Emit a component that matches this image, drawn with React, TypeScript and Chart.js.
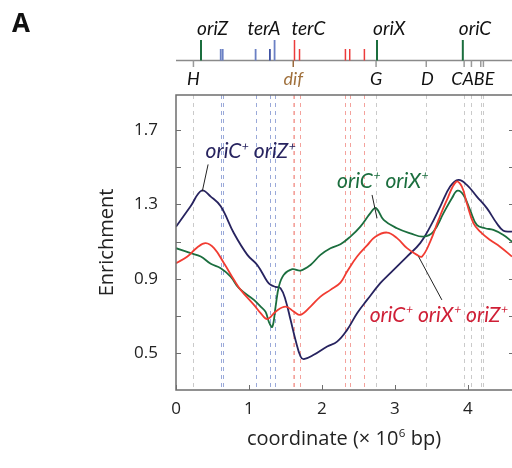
import React, { useEffect, useRef } from "react";
import { Chart, registerables } from "chart.js";

Chart.register(...registerables);

const FAM = "'Open Sans', 'Noto Sans', sans-serif";
const IFAM = "Lato, 'Open Sans', sans-serif";

// ---- data (x in 10^6 bp, y = enrichment) ----
const navyX = [0, 0.2, 0.353, 0.476, 0.613, 0.794, 0.978, 1.114, 1.251, 1.296, 1.365, 1.433, 1.501, 1.57, 1.638, 1.707, 1.752, 1.888, 2.072, 2.208, 2.345, 2.482, 2.619, 2.8, 2.937, 3.166, 3.347, 3.484, 3.621, 3.757, 3.871, 3.986, 4.123, 4.26, 4.396, 4.487, 4.605];
const navyY = [1.18, 1.29, 1.375, 1.342, 1.29, 1.145, 1.029, 0.975, 0.886, 0.868, 0.857, 0.85, 0.787, 0.68, 0.572, 0.483, 0.469, 0.492, 0.537, 0.563, 0.626, 0.716, 0.787, 0.877, 0.931, 1.02, 1.092, 1.181, 1.288, 1.396, 1.432, 1.405, 1.342, 1.28, 1.199, 1.159, 1.154];

const greenX = [0, 0.202, 0.339, 0.476, 0.613, 0.749, 0.863, 1.068, 1.16, 1.228, 1.273, 1.32, 1.365, 1.41, 1.478, 1.593, 1.707, 1.843, 1.98, 2.117, 2.254, 2.39, 2.527, 2.664, 2.739, 2.846, 3.029, 3.211, 3.393, 3.529, 3.666, 3.781, 3.857, 3.94, 4.031, 4.123, 4.236, 4.35, 4.487, 4.605];
const greenY = [1.065, 1.038, 1.02, 0.981, 0.957, 0.912, 0.85, 0.787, 0.751, 0.723, 0.669, 0.642, 0.751, 0.859, 0.922, 0.952, 0.945, 0.975, 1.029, 1.065, 1.086, 1.127, 1.181, 1.253, 1.281, 1.217, 1.172, 1.145, 1.127, 1.154, 1.253, 1.333, 1.374, 1.351, 1.27, 1.19, 1.172, 1.163, 1.136, 1.1];

const redX = [0, 0.157, 0.294, 0.407, 0.521, 0.658, 0.794, 0.886, 1.068, 1.16, 1.251, 1.365, 1.501, 1.615, 1.707, 1.843, 1.98, 2.117, 2.254, 2.345, 2.482, 2.619, 2.732, 2.892, 3.029, 3.166, 3.302, 3.371, 3.484, 3.598, 3.713, 3.84, 3.918, 3.986, 4.076, 4.168, 4.305, 4.441, 4.605];
const redY = [0.984, 1.02, 1.07, 1.092, 1.065, 0.984, 0.895, 0.841, 0.76, 0.716, 0.684, 0.724, 0.751, 0.724, 0.707, 0.751, 0.805, 0.841, 0.88, 0.94, 1.02, 1.08, 1.127, 1.149, 1.119, 1.065, 1.029, 1.02, 1.1, 1.217, 1.324, 1.422, 1.396, 1.306, 1.199, 1.154, 1.109, 1.073, 1.02];

const xTickValues = [0, 1, 2, 3, 4];
const yLabelValues = [0.5, 0.9, 1.3, 1.7];
const yMarkValues = [0.5, 0.7, 0.9, 1.1, 1.3, 1.5, 1.7];

// genome map features (10^6 bp)
const originNames = ["oriZ", "oriX", "oriC"];
const originPos = [0.343, 2.755, 3.931];
const terBluePos = [0.613, 0.64, 1.091, 1.287, 1.351];
const terBlueTall = [false, false, false, false, true];
const terRedPos = [1.624, 1.693, 2.322, 2.381, 2.582];
const terRedTall = [true, false, false, false, false];
const terLabels = ["terA", "terC"];
const terLabelPos = [1.351, 1.624];
const letterNames = ["H", "G", "D", "C", "A", "B", "E"];
const letterPos = [0.239, 2.742, 3.43, 3.949, 4.049, 4.177, 4.213];
const difPos = 1.607;

const NAVY = "#27235f";
const GREEN = "#1b6e3e";
const RED = "#f13c32";
const RED_TEXT = "#cf1f36";

function drawSup(ctx: CanvasRenderingContext2D, parts: string[], x: number, y: number, size: number, color: string, fam: string, italic: boolean) {
  ctx.fillStyle = color;
  ctx.textAlign = "left";
  ctx.textBaseline = "alphabetic";
  const st = italic ? "italic " : "";
  let cx = x;
  for (const p of parts) {
    if (p.startsWith("^")) {
      const t = p.slice(1);
      ctx.font = `${st}${size * 0.58}px ${fam}`;
      ctx.fillText(t, cx + 0.5, y - size * 0.4);
      cx += ctx.measureText(t).width + 0.5;
    } else {
      ctx.font = `${st}${size}px ${fam}`;
      ctx.fillText(p, cx, y);
      cx += ctx.measureText(p).width;
    }
  }
  return cx - x;
}

function measureSup(ctx: CanvasRenderingContext2D, parts: string[], size: number, fam: string, italic: boolean) {
  const st = italic ? "italic " : "";
  let w = 0;
  for (const p of parts) {
    if (p.startsWith("^")) {
      ctx.font = `${st}${size * 0.58}px ${fam}`;
      w += ctx.measureText(p.slice(1)).width + 0.5;
    } else {
      ctx.font = `${st}${size}px ${fam}`;
      w += ctx.measureText(p).width;
    }
  }
  return w;
}

const overlay = {
  id: "overlay",
  beforeDatasetsDraw(chart: any) {
    const { ctx, chartArea: a, scales } = chart;
    const x = scales.x;
    ctx.save();
    ctx.lineWidth = 1;
    ctx.setLineDash([4, 4]);
    const vline = (v: number, color: string) => {
      const px = Math.round(x.getPixelForValue(v)) + 0.5;
      ctx.strokeStyle = color;
      ctx.beginPath();
      ctx.moveTo(px, a.top);
      ctx.lineTo(px, a.bottom);
      ctx.stroke();
    };
    letterPos.forEach((p) => vline(p, "#cacaca"));
    terBluePos.forEach((p) => vline(p, "#9aa9d9"));
    vline(difPos, "#f7c0bb");
    terRedPos.forEach((p) => vline(p, "#f4a29c"));
    ctx.restore();
  },
  afterDraw(chart: any) {
    const { ctx, chartArea: a, scales } = chart;
    const x = scales.x;
    const y = scales.y;
    ctx.save();
    // frame
    ctx.strokeStyle = "#6e6e6e";
    ctx.lineWidth = 1.5;
    ctx.beginPath();
    ctx.moveTo(a.right + 2, a.top);
    ctx.lineTo(a.left, a.top);
    ctx.lineTo(a.left, a.bottom);
    ctx.lineTo(a.right + 2, a.bottom);
    ctx.stroke();
    // inward ticks
    ctx.lineWidth = 1;
    yMarkValues.forEach((v) => {
      const py = Math.round(y.getPixelForValue(v)) + 0.5;
      ctx.beginPath();
      ctx.moveTo(a.left, py);
      ctx.lineTo(a.left + 5, py);
      ctx.moveTo(a.right, py);
      ctx.lineTo(a.right - 3, py);
      ctx.stroke();
    });
    xTickValues.forEach((v) => {
      const px = Math.round(x.getPixelForValue(v)) + 0.5;
      ctx.beginPath();
      ctx.moveTo(px, a.bottom);
      ctx.lineTo(px, a.bottom - 5);
      ctx.stroke();
    });

    // x-axis title with real superscript
    const titleParts = ["coordinate (× 10", "^6", " bp)"];
    const tw = measureSup(ctx, titleParts, 20, FAM, false);
    drawSup(ctx, titleParts, (a.left + a.right) / 2 - tw / 2, 445, 20, "#222", FAM, false);

    // panel label
    ctx.fillStyle = "#111";
    ctx.font = `bold 26px ${FAM}`;
    ctx.textAlign = "left";
    ctx.textBaseline = "alphabetic";
    ctx.fillText("A", 12, 32);

    // genome track
    const trackY = 60.5;
    ctx.strokeStyle = "#8a8a8a";
    ctx.lineWidth = 1.5;
    ctx.beginPath();
    ctx.moveTo(a.left, trackY);
    ctx.lineTo(a.right + 2, trackY);
    ctx.stroke();

    const mark = (v: number, tall: boolean, color: string, w: number) => {
      const px = x.getPixelForValue(v);
      ctx.strokeStyle = color;
      ctx.lineWidth = w;
      ctx.beginPath();
      ctx.moveTo(px, trackY);
      ctx.lineTo(px, tall ? 40 : 49);
      ctx.stroke();
    };
    const tickDown = (v: number, color: string) => {
      const px = x.getPixelForValue(v);
      ctx.strokeStyle = color;
      ctx.lineWidth = 1.5;
      ctx.beginPath();
      ctx.moveTo(px, trackY);
      ctx.lineTo(px, 67);
      ctx.stroke();
    };
    letterPos.forEach((p) => tickDown(p, "#9a9a9a"));
    tickDown(difPos, "#9a6a3c");
    terBluePos.forEach((p, i) => mark(p, terBlueTall[i], i === 3 ? "#3f52a3" : "#6b80c4", 1.8));
    terRedPos.forEach((p, i) => mark(p, terRedTall[i], "#ec3b3b", 1.5));
    originPos.forEach((p) => mark(p, true, "#1b6e3e", 2));

    // track labels
    ctx.fillStyle = "#111";
    ctx.font = `italic 19px ${IFAM}`;
    ctx.textAlign = "left";
    originNames.forEach((n, i) => {
      ctx.fillText(n, x.getPixelForValue(originPos[i]) - 4, 35);
    });
    ctx.textAlign = "right";
    ctx.fillText(terLabels[0], x.getPixelForValue(terLabelPos[0]) + 6, 35);
    ctx.textAlign = "left";
    ctx.fillText(terLabels[1], x.getPixelForValue(terLabelPos[1]) - 3, 35);

    ctx.font = `italic 18px ${IFAM}`;
    ctx.textAlign = "center";
    ["H", "G", "D"].forEach((n) => {
      const i = letterNames.indexOf(n);
      ctx.fillText(n, x.getPixelForValue(letterPos[i]) + (n === "D" ? 1 : 0), 85);
    });
    const cIdx = letterNames.indexOf("C");
    const eIdx = letterNames.indexOf("E");
    ctx.fillText(
      letterNames.slice(cIdx, eIdx + 1).join(""),
      (x.getPixelForValue(letterPos[cIdx]) + x.getPixelForValue(letterPos[eIdx])) / 2 - 1,
      85
    );
    ctx.fillStyle = "#a0703c";
    ctx.fillText("dif", x.getPixelForValue(difPos), 85);

    // annotations
    const leader = (x1: number, y1: number, x2: number, y2: number) => {
      ctx.strokeStyle = "#222";
      ctx.lineWidth = 1;
      ctx.beginPath();
      ctx.moveTo(x.getPixelForValue(x1), y.getPixelForValue(y1));
      ctx.lineTo(x.getPixelForValue(x2), y.getPixelForValue(y2));
      ctx.stroke();
    };
    leader(0.44, 1.515, 0.36, 1.37);
    leader(2.687, 1.351, 2.755, 1.226);
    leader(3.324, 1.02, 3.644, 0.787);

    drawSup(ctx, ["oriC", "^+", " oriZ", "^+"], x.getPixelForValue(0.405), y.getPixelForValue(1.55), 21, NAVY, IFAM, true);
    drawSup(ctx, ["oriC", "^+", " oriX", "^+"], x.getPixelForValue(2.208), y.getPixelForValue(1.389), 21, GREEN, IFAM, true);
    drawSup(ctx, ["oriC", "^+", " oriX", "^+", " oriZ", "^+"], x.getPixelForValue(2.654), y.getPixelForValue(0.671), 21, RED_TEXT, IFAM, true);
    ctx.restore();
  },
};

function toPoints(xs: number[], ys: number[]) {
  return xs.map((v, i) => ({ x: v, y: ys[i] }));
}

export default function App() {
  const ref = useRef<HTMLCanvasElement>(null);
  useEffect(() => {
    const chart = new Chart(ref.current as HTMLCanvasElement, {
      type: "line",
      data: {
        datasets: [
          { label: "oriC+ oriX+ oriZ+", data: toPoints(redX, redY), borderColor: RED },
          { label: "oriC+ oriX+", data: toPoints(greenX, greenY), borderColor: GREEN },
          { label: "oriC+ oriZ+", data: toPoints(navyX, navyY), borderColor: NAVY },
        ],
      },
      options: {
        responsive: false,
        animation: false,
        layout: { padding: { top: 95, left: 0, right: 0, bottom: 0 } },
        plugins: { legend: { display: false }, tooltip: { enabled: false } },
        elements: {
          point: { radius: 0 },
          line: { tension: 0.4, borderWidth: 1.8, fill: false },
        },
        scales: {
          x: {
            type: "linear",
            min: 0,
            max: 4.605,
            afterBuildTicks: (s: any) => {
              s.ticks = xTickValues.map((value) => ({ value }));
            },
            afterFit: (s: any) => {
              s.height = 78;
            },
            grid: { display: false, drawTicks: false },
            border: { display: false },
            ticks: {
              autoSkip: false,
              maxRotation: 0,
              padding: 9,
              color: "#222",
              font: { family: FAM, size: 17 },
              callback: (v: any) => String(Math.round(Number(v))),
            },
            title: { display: false },
          },
          y: {
            min: 0.303,
            max: 1.888,
            afterBuildTicks: (s: any) => {
              s.ticks = yLabelValues.map((value) => ({ value }));
            },
            afterFit: (s: any) => {
              s.width = 176;
            },
            grid: { display: false, drawTicks: false },
            border: { display: false },
            ticks: {
              autoSkip: false,
              padding: 18,
              color: "#222",
              font: { family: FAM, size: 17 },
              callback: (v: any) => Number(v).toFixed(1),
            },
            title: {
              display: true,
              text: "Enrichment",
              color: "#222",
              font: { family: FAM, size: 20 },
              padding: { top: 95.5, bottom: 0 },
            },
          },
        },
      },
      plugins: [overlay],
    } as any);
    return () => chart.destroy();
  }, []);
  return (
    <div style={{ position: "absolute", left: 0, top: 0, width: 512, height: 468, background: "#fff", overflow: "hidden" }}>
      <canvas ref={ref} width={512} height={468} style={{ display: "block" }} />
    </div>
  );
}
